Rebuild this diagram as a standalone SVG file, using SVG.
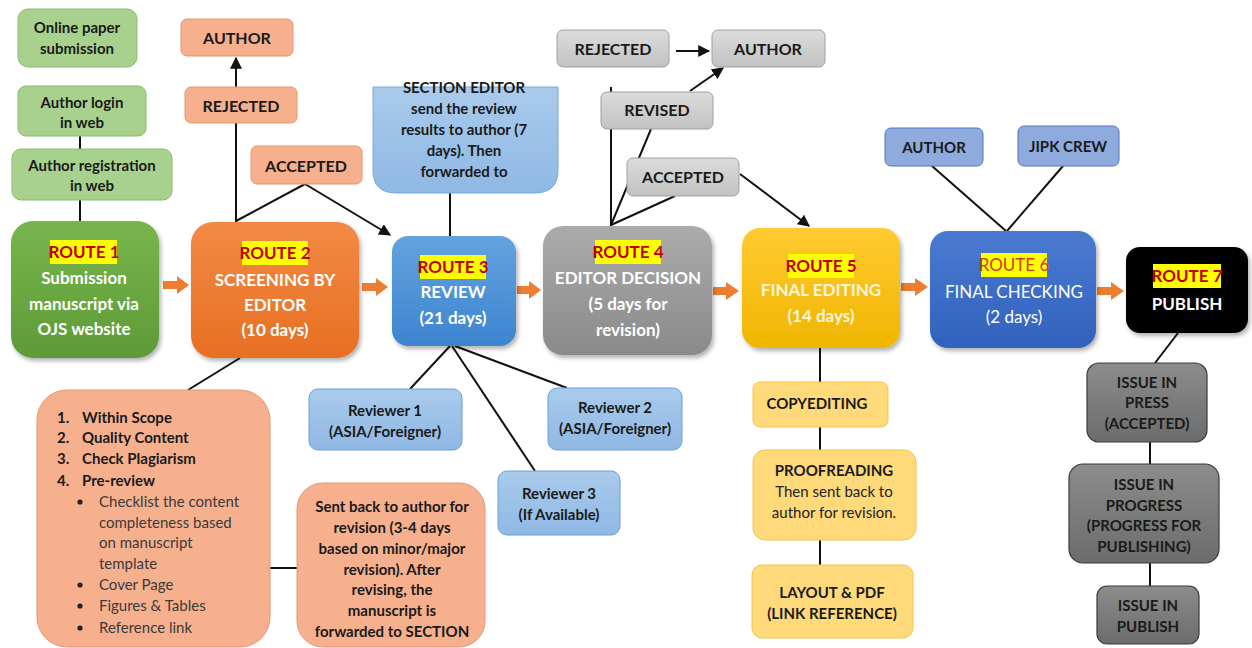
<svg xmlns="http://www.w3.org/2000/svg" width="1252" height="648" viewBox="0 0 1252 648">
<defs>
<style>
text{font-family:Lato,"Liberation Sans",sans-serif;text-anchor:middle}
.b{font-weight:bold}
.lbl{font-size:15px;font-weight:bold;fill:#1a1a1a}
.top{font-size:16px;font-weight:bold;fill:#1a1a1a}
.rt{font-size:17px;font-weight:bold;fill:#c00000}
.rw{font-size:17px;font-weight:bold;fill:#fff}
.hl{fill:#ffff00}
.ln{stroke:#111;stroke-width:2;fill:none}
.oa{fill:#ed7d31}
.green{fill:#a9d18e;stroke:#8dbb6f;stroke-width:1}
.salmon{fill:#f6b08e;stroke:#e59670;stroke-width:1}
.grey{fill:url(#gGrey);stroke:#a0a0a0;stroke-width:1}
.lblue{fill:url(#gLblue);stroke:#6a9fd6;stroke-width:1}
.mblue{fill:#8faadc;stroke:#4f76c0;stroke-width:1}
.yel{fill:#ffd97a;stroke:#f2c54a;stroke-width:1}
.dgrey{fill:url(#gDgrey);stroke:#3a3a3a;stroke-width:1.2}
.reg{font-weight:normal}
.lt{text-anchor:start}
</style>
<linearGradient id="g1" x1="0" y1="0" x2="0" y2="1"><stop offset="0" stop-color="#77b54d"/><stop offset="1" stop-color="#5e9b37"/></linearGradient>
<linearGradient id="g2" x1="0" y1="0" x2="0" y2="1"><stop offset="0" stop-color="#f28a45"/><stop offset="1" stop-color="#e76f22"/></linearGradient>
<linearGradient id="g3" x1="0" y1="0" x2="0" y2="1"><stop offset="0" stop-color="#64a3dd"/><stop offset="1" stop-color="#3d84d0"/></linearGradient>
<linearGradient id="g4" x1="0" y1="0" x2="0" y2="1"><stop offset="0" stop-color="#ababab"/><stop offset="1" stop-color="#8a8a8a"/></linearGradient>
<linearGradient id="g5" x1="0" y1="0" x2="0" y2="1"><stop offset="0" stop-color="#ffca32"/><stop offset="1" stop-color="#f0b600"/></linearGradient>
<linearGradient id="g6" x1="0" y1="0" x2="0" y2="1"><stop offset="0" stop-color="#4a7ad0"/><stop offset="1" stop-color="#3162bd"/></linearGradient>
<linearGradient id="gGrey" x1="0" y1="0" x2="0" y2="1"><stop offset="0" stop-color="#dcdcdc"/><stop offset="1" stop-color="#c2c2c2"/></linearGradient>
<linearGradient id="gLblue" x1="0" y1="0" x2="0" y2="1"><stop offset="0" stop-color="#a9cbec"/><stop offset="1" stop-color="#8fb8e4"/></linearGradient>
<linearGradient id="gDgrey" x1="0" y1="0" x2="0" y2="1"><stop offset="0" stop-color="#8c8c8c"/><stop offset="1" stop-color="#6c6c6c"/></linearGradient>
<filter id="sh" x="-10%" y="-10%" width="130%" height="130%"><feDropShadow dx="2" dy="3" stdDeviation="2" flood-color="#000" flood-opacity="0.3"/></filter>
<marker id="ah" viewBox="0 0 10 10" refX="9" refY="5" markerWidth="6" markerHeight="6" orient="auto"><path d="M0,0 L10,5 L0,10 z" fill="#111"/></marker>
</defs>

<g id="connectors">
<line class="ln" x1="80" y1="136" x2="80" y2="149"/>
<line class="ln" x1="80" y1="200" x2="80" y2="221"/>
<line class="ln" x1="236" y1="87" x2="236" y2="58" marker-end="url(#ah)"/>
<line class="ln" x1="236" y1="123" x2="236" y2="222"/>
<line class="ln" x1="305" y1="184" x2="236" y2="221"/>
<line class="ln" x1="305" y1="184" x2="390" y2="235" marker-end="url(#ah)"/>
<line class="ln" x1="450" y1="193" x2="450" y2="236"/>
<line class="ln" x1="611" y1="87" x2="611" y2="226"/>
<line class="ln" x1="611" y1="225" x2="651" y2="129"/>
<line class="ln" x1="611" y1="225" x2="675" y2="196"/>
<line class="ln" x1="676" y1="51" x2="709" y2="51" marker-end="url(#ah)"/>
<line class="ln" x1="690" y1="91" x2="723" y2="68" marker-end="url(#ah)"/>
<line class="ln" x1="740" y1="174" x2="809" y2="226" marker-end="url(#ah)"/>
<line class="ln" x1="932" y1="166" x2="1006" y2="231"/>
<line class="ln" x1="1063" y1="166" x2="1007" y2="231"/>
<line class="ln" x1="1178" y1="333" x2="1155" y2="363"/>
<line class="ln" x1="1150" y1="442" x2="1150" y2="464"/>
<line class="ln" x1="1150" y1="563" x2="1150" y2="586"/>
<line class="ln" x1="820" y1="348" x2="820" y2="382"/>
<line class="ln" x1="820" y1="427" x2="820" y2="450"/>
<line class="ln" x1="820" y1="540" x2="820" y2="565"/>
<line class="ln" x1="240" y1="358" x2="188" y2="390"/>
<line class="ln" x1="450" y1="346" x2="410" y2="389"/>
<line class="ln" x1="452" y1="346" x2="535" y2="471"/>
<line class="ln" x1="455" y1="346" x2="567" y2="388"/>
<line class="ln" x1="270" y1="568" x2="297" y2="568"/>
<polygon class="oa" points="163,281 177,281 177,276 189,285 177,294 177,289 163,289"/>
<polygon class="oa" points="362,283 376,283 376,278 388,287 376,296 376,291 362,291"/>
<polygon class="oa" points="517,286 529,286 529,281 541,290 529,299 529,294 517,294"/>
<polygon class="oa" points="713,287 726,287 726,282 739,291 726,300 726,295 713,295"/>
<polygon class="oa" points="901,283 915,283 915,278 928,287 915,296 915,291 901,291"/>
<polygon class="oa" points="1097,287 1111,287 1111,282 1124,291 1111,300 1111,295 1097,295"/>
</g>

<g id="online-paper"><rect class="green" x="18" y="9" width="119" height="58" rx="10"/><text class="lbl" x="77" y="33">Online paper</text><text class="lbl" x="77" y="54">submission</text></g>
<g id="author-login"><rect class="green" x="18" y="86" width="128" height="50" rx="8"/><text class="lbl" x="82" y="108">Author login</text><text class="lbl" x="82" y="128">in web</text></g>
<g id="author-registration"><rect class="green" x="12" y="149" width="160" height="51" rx="9"/><text class="lbl" x="92" y="171">Author registration</text><text class="lbl" x="92" y="191">in web</text></g>

<g id="route1"><rect x="11" y="221" width="148" height="137" rx="22" fill="url(#g1)" filter="url(#sh)"/>
<rect class="hl" x="50" y="240" width="67" height="24"/><text class="rt" x="84" y="258">ROUTE 1</text>
<text class="rw" x="84" y="284">Submission</text><text class="rw" x="84" y="310">manuscript via</text><text class="rw" x="84" y="335">OJS website</text></g>

<g id="route2"><rect x="191" y="222" width="168" height="136" rx="22" fill="url(#g2)" filter="url(#sh)"/>
<rect class="hl" x="242" y="241" width="66" height="24"/><text class="rt" x="275" y="259">ROUTE 2</text>
<text class="rw" x="275" y="286">SCREENING BY</text><text class="rw" x="275" y="311">EDITOR</text><text class="rw" x="275" y="336">(10 days)</text></g>

<g id="route3"><rect x="392" y="236" width="124" height="110" rx="16" fill="url(#g3)" filter="url(#sh)"/>
<rect class="hl" x="420" y="255" width="66" height="24"/><text class="rt" x="453" y="273">ROUTE 3</text>
<text class="rw" x="453" y="298">REVIEW</text><text class="rw" x="453" y="324">(21 days)</text></g>

<g id="route4"><rect x="543" y="226" width="169" height="129" rx="20" fill="url(#g4)" filter="url(#sh)"/>
<rect class="hl" x="595" y="240" width="66" height="24"/><text class="rt" x="628" y="258">ROUTE 4</text>
<text class="rw" x="628" y="284">EDITOR DECISION</text><text class="rw" x="628" y="310">(5 days for</text><text class="rw" x="628" y="336">revision)</text></g>

<g id="route5"><rect x="742" y="228" width="158" height="120" rx="18" fill="url(#g5)" filter="url(#sh)"/>
<rect class="hl" x="788" y="254" width="66" height="24"/><text class="rt" x="821" y="272">ROUTE 5</text>
<text class="rw" x="821" y="296" fill="#fff6dc" style="fill:#fff6dc">FINAL EDITING</text><text class="rw" x="821" y="322" style="fill:#fff6dc">(14 days)</text></g>

<g id="route6"><rect x="930" y="231" width="166" height="117" rx="18" fill="url(#g6)" filter="url(#sh)"/>
<rect class="hl" x="981" y="253" width="66" height="24"/><text class="rt reg" x="1014" y="271" style="fill:#d03a10">ROUTE 6</text>
<text class="rw reg" x="1014" y="298">FINAL CHECKING</text><text class="rw reg" x="1014" y="323">(2 days)</text></g>

<g id="route7"><rect x="1126" y="247" width="122" height="86" rx="14" fill="#000" filter="url(#sh)"/>
<rect class="hl" x="1153" y="264" width="68" height="24"/><text class="rt" x="1187" y="282">ROUTE 7</text>
<text class="rw" x="1187" y="310">PUBLISH</text></g>

<g id="author-r2"><rect class="salmon" x="181" y="19" width="112" height="37" rx="6"/><text class="top" x="237" y="44">AUTHOR</text></g>
<g id="rejected-r2"><rect class="salmon" x="185" y="87" width="112" height="36" rx="6"/><text class="top" x="241" y="112">REJECTED</text></g>
<g id="accepted-r2"><rect class="salmon" x="251" y="146" width="111" height="38" rx="6"/><text class="top" x="306" y="172">ACCEPTED</text></g>

<g id="section-editor"><path d="M373,87 H558 V170 Q558,193 535,193 H396 Q373,193 373,170 Z" fill="url(#gLblue)" stroke="#7aa7dc" stroke-width="1"/>
<text class="lbl" x="464" y="93">SECTION EDITOR</text><text class="lbl" x="464" y="114">send the review</text><text class="lbl" x="464" y="135">results to author (7</text><text class="lbl" x="464" y="156">days). Then</text><text class="lbl" x="464" y="177">forwarded to</text></g>

<g id="rejected-r4"><rect class="grey" x="557" y="30" width="112" height="37" rx="6"/><text class="top" x="613" y="55">REJECTED</text></g>
<g id="author-r4"><rect class="grey" x="712" y="30" width="113" height="37" rx="6"/><text class="top" x="768" y="55">AUTHOR</text></g>
<g id="revised-r4"><rect class="grey" x="601" y="92" width="112" height="37" rx="6"/><text class="top" x="657" y="116">REVISED</text></g>
<g id="accepted-r4"><rect class="grey" x="627" y="158" width="112" height="38" rx="6"/><text class="top" x="683" y="183">ACCEPTED</text></g>

<g id="author-r6"><rect class="mblue" x="885" y="128" width="98" height="38" rx="6"/><text class="lbl" x="934" y="153">AUTHOR</text></g>
<g id="jipk-crew"><rect class="mblue" x="1018" y="126" width="101" height="40" rx="6"/><text class="lbl" x="1068" y="152">JIPK CREW</text></g>

<g id="reviewer1"><rect class="lblue" x="309" y="389" width="153" height="61" rx="9"/><text class="lbl" x="385" y="416">Reviewer 1</text><text class="lbl" x="385" y="437">(ASIA/Foreigner)</text></g>
<g id="reviewer2"><rect class="lblue" x="548" y="388" width="134" height="62" rx="9"/><text class="lbl" x="615" y="413">Reviewer 2</text><text class="lbl" x="615" y="434">(ASIA/Foreigner)</text></g>
<g id="reviewer3"><rect class="lblue" x="498" y="471" width="122" height="64" rx="9"/><text class="lbl" x="559" y="499">Reviewer 3</text><text class="lbl" x="559" y="520">(If Available)</text></g>

<g id="screening-list"><rect class="salmon" x="37" y="390" width="233" height="257" rx="30"/>
<g class="lbl" style="text-anchor:start">
<text class="lbl lt" x="57" y="423">1.</text><text class="lbl lt" x="82" y="423">Within Scope</text>
<text class="lbl lt" x="57" y="443">2.</text><text class="lbl lt" x="82" y="443">Quality Content</text>
<text class="lbl lt" x="57" y="464">3.</text><text class="lbl lt" x="82" y="464">Check Plagiarism</text>
<text class="lbl lt" x="57" y="486">4.</text><text class="lbl lt" x="82" y="486">Pre-review</text>
</g>
<g fill="#222"><circle cx="80" cy="502" r="2.6"/><circle cx="80" cy="585" r="2.6"/><circle cx="80" cy="606" r="2.6"/><circle cx="80" cy="628" r="2.6"/></g>
<text class="lt" x="99" y="507" font-size="15" fill="#3a3a3a">Checklist the content</text>
<text class="lt" x="99" y="528" font-size="15" fill="#3a3a3a">completeness based</text>
<text class="lt" x="99" y="548" font-size="15" fill="#3a3a3a">on manuscript</text>
<text class="lt" x="99" y="569" font-size="15" fill="#3a3a3a">template</text>
<text class="lt" x="99" y="590" font-size="15" fill="#3a3a3a">Cover Page</text>
<text class="lt" x="99" y="611" font-size="15" fill="#3a3a3a">Figures &amp; Tables</text>
<text class="lt" x="99" y="633" font-size="15" fill="#3a3a3a">Reference link</text></g>

<g id="sent-back"><rect class="salmon" x="297" y="483" width="188" height="164" rx="26"/>
<text class="lbl" x="392" y="512">Sent back to author for</text><text class="lbl" x="392" y="533">revision (3-4 days</text><text class="lbl" x="392" y="554">based on minor/major</text><text class="lbl" x="392" y="575">revision). After</text><text class="lbl" x="392" y="595">revising, the</text><text class="lbl" x="392" y="616">manuscript is</text><text class="lbl" x="392" y="637">forwarded to SECTION</text></g>

<g id="copyediting"><rect class="yel" x="753" y="382" width="135" height="45" rx="7"/><text class="lbl" x="817" y="409">COPYEDITING</text></g>
<g id="proofreading"><rect class="yel" x="753" y="450" width="163" height="90" rx="12"/><text class="lbl" x="834" y="476">PROOFREADING</text><text x="834" y="497" font-size="15" fill="#222">Then sent back to</text><text x="834" y="518" font-size="15" fill="#222">author for revision.</text></g>
<g id="layout-pdf"><rect class="yel" x="752" y="565" width="161" height="73" rx="10"/><text class="lbl" x="832" y="598">LAYOUT &amp; PDF</text><text class="lbl" x="832" y="619">(LINK REFERENCE)</text></g>

<g id="issue-press"><rect class="dgrey" x="1087" y="363" width="120" height="79" rx="12"/><text class="lbl" x="1147" y="388">ISSUE IN</text><text class="lbl" x="1147" y="408">PRESS</text><text class="lbl" x="1147" y="429">(ACCEPTED)</text></g>
<g id="issue-progress"><rect class="dgrey" x="1069" y="464" width="150" height="99" rx="14"/><text class="lbl" x="1144" y="490">ISSUE IN</text><text class="lbl" x="1144" y="511">PROGRESS</text><text class="lbl" x="1144" y="531">(PROGRESS FOR</text><text class="lbl" x="1144" y="552">PUBLISHING)</text></g>
<g id="issue-publish"><rect class="dgrey" x="1097" y="586" width="102" height="58" rx="10"/><text class="lbl" x="1148" y="611">ISSUE IN</text><text class="lbl" x="1148" y="632">PUBLISH</text></g>
</svg>
